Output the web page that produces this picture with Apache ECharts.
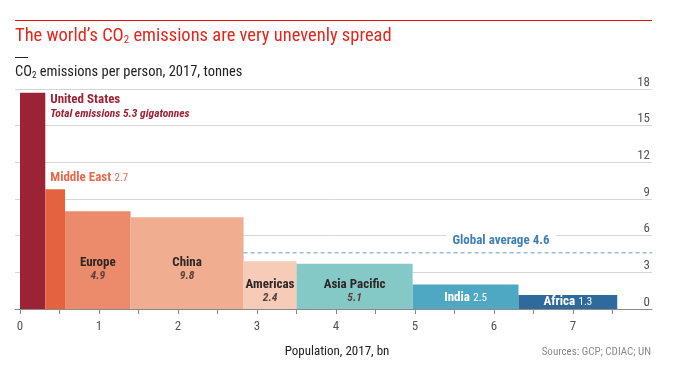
<!DOCTYPE html>
<html><head><meta charset="utf-8">
<script src="https://cdn.jsdelivr.net/npm/echarts@6/dist/echarts.min.js"></script>
<style>html,body{margin:0;padding:0;background:#fff}#c{width:676px;height:389px}</style>
</head><body><div id="c"></div>
<script>
// ---- data ----
const regions = ['United States','Middle East','Europe','China','Americas','Asia Pacific','India','Africa'];
const population = [0.32, 0.25, 0.83, 1.43, 0.67, 1.47, 1.34, 1.25];   // bn people (bar widths)
const perPerson = [17.7, 9.8, 8.0, 7.5, 3.9, 3.7, 2.0, 1.15];          // tonnes per person (bar heights)
const totals = ['5.3', '2.7', '4.9', '9.8', '2.4', '5.1', '2.5', '1.3']; // gigatonnes
const globalAverage = 4.6;
const yTicks = [0, 3, 6, 9, 12, 15, 18];
const xTickLabels = ['0','1','2','3','4','5','6','7'];

// ---- styles ----
const FONT = "'Roboto Condensed','DejaVu Sans Condensed',sans-serif";
const colors = ['#9b2335','#e4623f','#ec8b6b','#f0ad90','#f6cbb7','#85c9c6','#4fa8c3','#2f6a9c'];

// cumulative starts
const starts = [];
let acc = 0;
population.forEach(p => { starts.push(acc); acc += p; });
const barData = regions.map((r, i) => [starts[i], starts[i] + population[i], perPerson[i]]);
const chinaEnd = starts[3] + population[3];

const chart = echarts.init(document.getElementById('c'), null, {renderer: 'canvas'});

function labelFor(i, p0, p1) {
  const cx = (p0[0] + p1[0]) / 2, top = p0[1], bottom = p1[1];
  const nameStyle = {fontFamily: FONT, fontWeight: 'bold', fontSize: 13, lineHeight: 13, fill: '#2e2624'};
  const valStyle = {fontFamily: FONT, fontWeight: 'bold', fontStyle: 'italic', fontSize: 11.5, lineHeight: 13, fill: '#5b403a'};
  if (i === 0) {
    return {type: 'text', x: p1[0] + 5, y: top, style: {
      text: '{n|' + regions[i] + '}\n{t|Total emissions ' + totals[i] + ' gigatonnes}',
      align: 'left', verticalAlign: 'top',
      rich: {n: Object.assign({}, nameStyle, {fill: '#9b2335', lineHeight: 14}),
             t: Object.assign({}, valStyle, {fill: '#9b2335', lineHeight: 14})}}};
  }
  if (i === 1) {
    return {type: 'text', x: p0[0] + 5, y: top - 4, style: {
      text: '{n|' + regions[i] + '} {v|' + totals[i] + '}', align: 'left', verticalAlign: 'bottom',
      rich: {n: Object.assign({}, nameStyle, {fill: '#e8694a', lineHeight: 14}),
             v: {fontFamily: FONT, fontSize: 11, fill: '#e8694a', lineHeight: 14}}}};
  }
  if (i === 2 || i === 3 || i === 4 || i === 5) {
    const off = (i <= 3) ? 39.5 : 17.5;
    return {type: 'text', x: cx, y: bottom - off, style: {
      text: '{n|' + regions[i] + '}\n{v|' + totals[i] + '}', align: 'center', verticalAlign: 'middle',
      rich: {n: nameStyle, v: valStyle}}};
  }
  const y = (i === 6) ? bottom - 11 : (top + bottom) / 2;
  return {type: 'text', x: cx, y: y, style: {
    text: '{n|' + regions[i] + '} {v|' + totals[i] + '}', align: 'center', verticalAlign: 'middle',
    rich: {n: Object.assign({}, nameStyle, {fill: '#fff'}),
           v: {fontFamily: FONT, fontSize: 11, fill: '#fff', lineHeight: 13}}}};
}

const option = {
  animation: false,
  grid: [
    {left: 15, right: 24, top: 89, bottom: 80, containLabel: false},
    {left: 20, width: 592.5, top: 89, bottom: 80, containLabel: false}
  ],
  xAxis: [
    {type: 'value', gridIndex: 0, min: -5 / 79, max: 8, axisLabel: {show: false}, axisTick: {show: false},
     splitLine: {show: false}, axisLine: {show: true, lineStyle: {color: '#8a8a8a', width: 1}}},
    {type: 'value', gridIndex: 1, min: 0, max: 7.5, interval: 0.5, splitLine: {show: false},
     axisLine: {show: false}, axisTick: {show: true, length: 5, lineStyle: {color: '#8a8a8a'}},
     axisLabel: {margin: 11, color: '#555', fontFamily: FONT, fontSize: 13,
       formatter: v => Number.isInteger(v) ? xTickLabels[v] : ''}}
  ],
  yAxis: [
    {type: 'value', gridIndex: 0, position: 'right', min: 0, max: 18, interval: 3,
     axisLine: {show: false}, axisTick: {show: false},
     splitLine: {lineStyle: {color: '#d6d6d6', width: 1}},
     axisLabel: {inside: true, margin: 2, color: '#555', fontFamily: FONT, fontSize: 13,
       verticalAlign: 'bottom', lineHeight: 13, padding: [0, 0, 0, 0],
       formatter: v => yTicks.includes(v) ? String(v) : ''}},
    {type: 'value', gridIndex: 1, min: 0, max: 18, show: false}
  ],
  graphic: [
    {type: 'line', shape: {x1: 15, y1: 20.5, x2: 652, y2: 20.5}, style: {stroke: '#e3120b', lineWidth: 1.2}},
    {type: 'text', x: 15, y: 36, style: {
      text: "{a|The world\u2019s CO}{s|2}{a| emissions are very unevenly spread}", verticalAlign: 'middle',
      rich: {a: {fontFamily: FONT, fontSize: 18.5, fill: '#e3261c', lineHeight: 20, verticalAlign: 'bottom'},
             s: {fontFamily: FONT, fontSize: 11, fill: '#e3261c', lineHeight: 12, verticalAlign: 'bottom'}}}},
    {type: 'line', shape: {x1: 15, y1: 57.5, x2: 28, y2: 57.5}, style: {stroke: '#222', lineWidth: 1}},
    {type: 'text', x: 15, y: 72, style: {
      text: "{a|CO}{s|2}{a| emissions per person, 2017, tonnes}", verticalAlign: 'middle',
      rich: {a: {fontFamily: FONT, fontSize: 14.5, fill: '#222', lineHeight: 16, verticalAlign: 'bottom'},
             s: {fontFamily: FONT, fontSize: 9, fill: '#222', lineHeight: 10, verticalAlign: 'bottom'}}}},
    {type: 'text', x: 337, y: 352, style: {text: 'Population, 2017, bn', fontFamily: FONT, fontSize: 13,
      fill: '#222', align: 'center', verticalAlign: 'middle'}},
    {type: 'text', x: 651, y: 352, style: {text: 'Sources: GCP; CDIAC; UN', fontFamily: FONT, fontSize: 11,
      fill: '#8a8a8a', align: 'right', verticalAlign: 'middle'}}
  ],
  series: [
    {type: 'custom', xAxisIndex: 0, yAxisIndex: 0, data: barData, z: 2,
     renderItem: (params, api) => {
       const i = params.dataIndex;
       const p0 = api.coord([api.value(0), api.value(2)]);
       const p1 = api.coord([api.value(1), 0]);
       return {type: 'group', children: [
         {type: 'rect', shape: {x: p0[0], y: p0[1], width: p1[0] - p0[0], height: p1[1] - p0[1]},
          style: {fill: colors[i]}},
         labelFor(i, p0, p1)
       ]};
     }},
    {type: 'custom', xAxisIndex: 0, yAxisIndex: 0, data: [[chinaEnd, 8, globalAverage]], z: 3,
     renderItem: (params, api) => {
       const a = api.coord([api.value(0), api.value(2)]);
       const b = api.coord([api.value(1), api.value(2)]);
       return {type: 'group', children: [
         {type: 'line', shape: {x1: a[0], y1: a[1], x2: b[0], y2: b[1]},
          style: {stroke: '#9bbcd8', lineWidth: 1.5, lineDash: [4, 3]}},
         {type: 'text', x: b[0] - 151, y: a[1] - 12, style: {
           text: 'Global average ' + globalAverage, fontFamily: FONT, fontWeight: 'bold', fontSize: 13,
           fill: '#3f7fb3', align: 'center', verticalAlign: 'middle', backgroundColor: '#fff', padding: [1, 6]}}
       ]};
     }}
  ]
};
chart.setOption(option);
</script></body></html>
